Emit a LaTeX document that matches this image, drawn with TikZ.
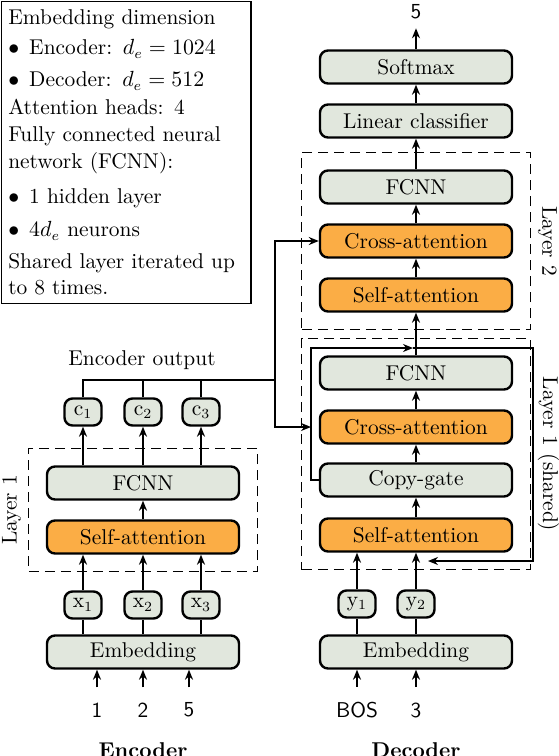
\documentclass[tikz,border=0pt]{standalone}
\usepackage{amsmath,amssymb}
\usepackage{tikz}
\usetikzlibrary{fit,arrows.meta}
\definecolor{vertclair}{HTML}{E1E7DD}
\definecolor{orangeclair}{HTML}{FBAD45}
\newcommand{\taille}{\fontsize{10.7}{12.8}\selectfont}

\begin{document}
\begin{tikzpicture}[x=0.5pt, y=-0.5pt, font=\taille,
  bloc/.style={draw, line width=1.2pt, rounded corners=4pt, fill=vertclair,
    minimum width=96pt, minimum height=16.5pt, inner sep=0pt},
  attn/.style={bloc, fill=orangeclair},
  jeton/.style={bloc, minimum width=18.5pt, minimum height=13.5pt},
  couche/.style={draw, dash pattern=on 5pt off 3pt, line width=0.6pt, inner sep=8.5pt},
  fleche/.style={-{Stealth[length=5pt, width=4pt]}, line width=1pt},
  lien/.style={line width=1pt},
  entree/.style={font=\taille\sffamily, inner sep=0pt},
  titre/.style={font=\taille\bfseries}]
  \useasboundingbox (0,0) rectangle (558,756);

  % Légende
  \node[draw, line width=0.6pt, anchor=north west, text width=118pt,
    minimum height=151pt, align=left] (legende) at (1,1) {%
    Embedding dimension\\[2.2pt]
    $\bullet$\hspace{5pt}Encoder: $d_e = 1024$\\[3.2pt]
    $\bullet$\hspace{5pt}Decoder: $d_e = 512$\\[1.2pt]
    Attention heads: 4\\[0.7pt]
    Fully connected neural\\[0.7pt]
    network (FCNN):\\[4.7pt]
    $\bullet$\hspace{5pt}1 hidden layer\\[3.7pt]
    $\bullet$\hspace{5pt}$4d_e$ neurons\\[3.2pt]
    Shared layer iterated up\\[0.2pt]
    to 8 times.};

  % Encodeur
  \node[entree] (in1) at (97,710) {1};
  \node[entree] (in2) at (143,710) {2};
  \node[entree] (in3) at (189,710) {5};
  \node[bloc] (encEmb) at (143,652) {Embedding};
  \node[jeton] (x1) at (83,605) {x$_1$};
  \node[jeton] (x2) at (143,605) {x$_2$};
  \node[jeton] (x3) at (201,605) {x$_3$};
  \node[attn] (encSelf) at (143,537) {Self-attention};
  \node[bloc] (encFcnn) at (143,483) {FCNN};
  \node[jeton] (c1) at (83,412) {c$_1$};
  \node[jeton] (c2) at (143,412) {c$_2$};
  \node[jeton] (c3) at (201,412) {c$_3$};
  \node (encSortie) at (142,360) {Encoder output};
  \node[titre] (titreEnc) at (143,750) {Encoder};
  \node[couche, fit=(encFcnn)(encSelf)] (encCouche) {};
  \node[rotate=90, anchor=south] (labEnc) at (encCouche.west) {Layer 1};

  \foreach \i in {1,2,3} {
    \draw[fleche, shorten <=7.5pt] (in\i.north) -- (in\i |- encEmb.south);
    \draw[lien] (encEmb.north -| x\i) -- (x\i.south);
    \draw[fleche] (x\i.north) -- (x\i |- encSelf.south);
    \draw[fleche] (encFcnn.north -| c\i) -- (c\i.south);
  }
  \draw[fleche] (encSelf.north) -- (encFcnn.south);

  % Décodeur
  \node[entree] (inBos) at (357,710) {BOS};
  \node[entree] (inTrois) at (416,710) {3};
  \node[bloc] (decEmb) at (416,652) {Embedding};
  \node[jeton] (y1) at (357,604) {y$_1$};
  \node[jeton] (y2) at (416,604) {y$_2$};
  \node[attn] (decSelf1) at (416,535) {Self-attention};
  \node[bloc] (decCopy) at (416,480) {Copy-gate};
  \node[attn] (decCross1) at (416,427) {Cross-attention};
  \node[bloc] (decFcnn1) at (416,373) {FCNN};
  \node[attn] (decSelf2) at (416,295) {Self-attention};
  \node[attn] (decCross2) at (416,241) {Cross-attention};
  \node[bloc] (decFcnn2) at (416,187) {FCNN};
  \node[bloc] (decLin) at (416,121) {Linear classifier};
  \node[bloc] (decSoft) at (416,67) {Softmax};
  \node[entree] (sortie) at (416,12) {5};
  \node[titre] (titreDec) at (416,750) {Decoder};
  \node[couche, fit=(decFcnn1)(decSelf1)] (decCouche1) {};
  \node[couche, fit=(decFcnn2)(decSelf2)] (decCouche2) {};
  \node[rotate=-90, anchor=south] (labDec1) at (decCouche1.east) {Layer 1 (shared)};
  \node[rotate=-90, anchor=south] (labDec2) at (decCouche2.east) {Layer 2};

  \draw[fleche, shorten <=7.5pt] (inBos.north) -- (inBos |- decEmb.south);
  \draw[fleche, shorten <=7.5pt] (inTrois.north) -- (inTrois |- decEmb.south);
  \draw[lien] (decEmb.north -| y1) -- (y1.south);
  \draw[lien] (decEmb.north -| y2) -- (y2.south);
  \draw[fleche] (y1.north) -- (y1 |- decSelf1.south);
  \draw[fleche] (y2.north) -- (y2 |- decSelf1.south);
  \draw[fleche] (decSelf1.north) -- (decCopy.south);
  \draw[fleche] (decCopy.north) -- (decCross1.south);
  \draw[fleche] (decCross1.north) -- (decFcnn1.south);
  \draw[fleche] (decFcnn1.north) -- (decSelf2.south);
  \draw[fleche] (decSelf2.north) -- (decCross2.south);
  \draw[fleche] (decCross2.north) -- (decFcnn2.south);
  \draw[fleche] (decFcnn2.north) -- (decLin.south);
  \draw[fleche] (decLin.north) -- (decSoft.south);
  \draw[fleche, shorten >=4.3pt] (decSoft.north) -- (sortie.south);

  % Boucle de la couche partagée
  \coordinate (boucleG) at (311,348);
  \coordinate (boucleM) at (413,348);
  \coordinate (boucleD) at (533,348);
  \coordinate (boucleF) at (428,561);
  \draw[fleche] (decCopy.west) -| (boucleG) -- (boucleM);
  \draw[fleche] (boucleM) -- (boucleD) |- (boucleF);

  % Sortie de l'encodeur vers le décodeur
  \coordinate (bus) at (275,380);
  \draw[lien] (c1.north) |- (bus);
  \draw[lien] (c2.north) -- (c2.north |- bus);
  \draw[lien] (c3.north) -- (c3.north |- bus);
  \draw[fleche] (bus) |- (decCross2.west);
  \draw[fleche] (bus) |- (decCross1.west -| boucleG);
\end{tikzpicture}
\end{document}
